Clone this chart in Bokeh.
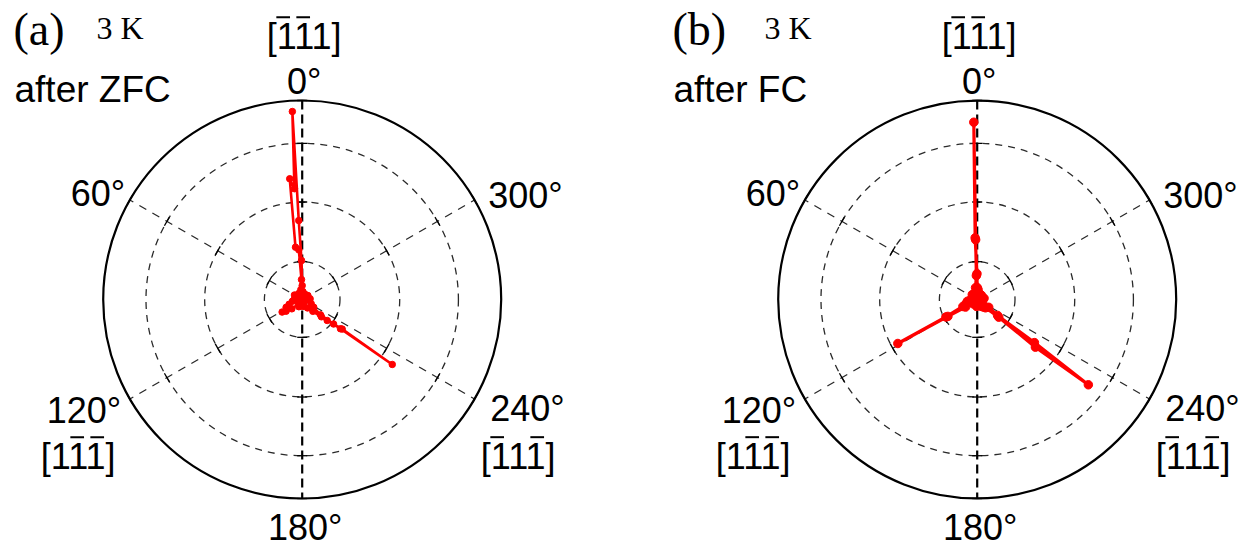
import numpy as np
from bokeh.plotting import figure
from bokeh.models import Range1d
from bokeh.embed import file_html
from bokeh.resources import INLINE
from bokeh.core.properties import value

# ---------------- data (angle in degrees, CCW from top; r normalised to outer ring = 1)
a_theta = [340, 350, 355, 0, 1, 2.5, 3.0, 4.0, 5.9, 7.3, 3.9, 2.0, 8, 15, 30, 45, 60, 75, 90,
           100, 110, 116, 122, 126, 132, 140, 155, 170, 185, 200, 212, 222, 228, 230, 232.6,
           234.2, 233.5, 232, 230, 236, 245, 260, 275, 290, 305, 320, 335]
a_r = [0.03, 0.012, 0.04, 0.07, 0.196, 0.397, 0.946, 0.558, 0.61, 0.265, 0.25, 0.10, 0.05, 0.02,
       0.035, 0.01, 0.045, 0.02, 0.04, 0.05, 0.07, 0.09, 0.119, 0.10, 0.07, 0.03, 0.04, 0.01,
       0.035, 0.02, 0.05, 0.08, 0.13, 0.164, 0.242, 0.558, 0.25, 0.20, 0.12, 0.07, 0.05, 0.02,
       0.04, 0.01, 0.035, 0.02, 0.03]

b_theta = [330, 345, 355, 0, 0.5, 1.9, 1.1, 1.5, 2, 8, 25, 45, 65, 85, 100, 110, 116, 119.2,
           119, 120, 123, 135, 155, 175, 195, 210, 220, 225, 230.7, 230.7, 232.5, 233, 232, 236,
           245, 260, 280, 300, 315]
b_r = [0.03, 0.01, 0.05, 0.06, 0.13, 0.31, 0.891, 0.30, 0.12, 0.06, 0.02, 0.035, 0.01, 0.03,
       0.05, 0.06, 0.08, 0.18, 0.456, 0.17, 0.07, 0.03, 0.01, 0.035, 0.02, 0.04, 0.05, 0.059,
       0.14, 0.378, 0.704, 0.36, 0.13, 0.07, 0.03, 0.01, 0.035, 0.015, 0.03]

grid_r = [0.19, 0.49, 0.785]
spoke_angles = [0, 60, 120, 180, 240, 300]
angle_labels = ["0°", "60°", "120°", "180°", "240°", "300°"]
# Miller-index labels: digits, plus which digits carry an over-bar (negative index)
dir_labels = ["[111]", "[111]", "[111]"]
dir_bars = [[0, 1], [1, 2], [0, 2]]
panel_tags = ["(a)", "(b)"]
temp_label = "3 K"
cond_labels = ["after ZFC", "after FC"]

# ---------------- layout
W, H = 1249, 550
R = 199.0
centers = [(301.7, 251.0), (976.7, 251.0)]

p = figure(width=W, height=H, x_range=Range1d(0, W), y_range=Range1d(0, H),
           output_backend="svg", toolbar_location=None, min_border=0,
           x_axis_type=None, y_axis_type=None)
p.grid.visible = False
p.outline_line_color = None
p.background_fill_color = "white"


def pol(cx, cy, th_deg, r):
    t = np.deg2rad(np.asarray(th_deg, dtype=float))
    r = np.asarray(r, dtype=float) * R
    return cx - r * np.sin(t), cy + r * np.cos(t)


SANS = value("Liberation Sans")
SERIF = value("Liberation Serif")


def put(x, y, s, font, fs, align="left"):
    # y is the desired alphabetic baseline (data units); compensate renderer offset
    p.text(x=[x], y=[y + 0.34 * fs], text=[s], text_font=font,
           text_font_size=f"{fs}px", text_align=align, text_baseline="alphabetic",
           text_color="black")


LFS = 36  # label font size
bx0, by0, bx1, by1 = [], [], [], []

for k, (cx, cy) in enumerate(centers):
    # dashed rings
    for gr in grid_r:
        p.circle(x=[cx], y=[cy], radius=gr * R, fill_color=None, line_color="#2a2a2a",
                 line_width=1.3, line_dash="7 6")
    # spokes
    for ang in [60, 120, 240, 300]:
        xs, ys = pol(cx, cy, [ang], [1.0])
        p.segment(x0=[cx], y0=[cy], x1=list(xs), y1=list(ys), line_color="#2a2a2a",
                  line_width=1.3, line_dash="8 7")
    xs, ys = pol(cx, cy, [0, 180], [1.0, 1.0])
    p.segment(x0=[xs[0]], y0=[ys[0]], x1=[xs[1]], y1=[ys[1]], line_color="black",
              line_width=2.2, line_dash="9 5")
    # small ticks at crossings
    tx0, ty0, tx1, ty1 = [], [], [], []
    for ang in spoke_angles:
        t = np.deg2rad(ang)
        vx, vy = np.cos(t), np.sin(t)
        for gr in grid_r + [1.0]:
            px_, py_ = pol(cx, cy, [ang], [gr])
            tx0.append(px_[0] - 5 * vx); ty0.append(py_[0] - 5 * vy)
            tx1.append(px_[0] + 5 * vx); ty1.append(py_[0] + 5 * vy)
    p.segment(x0=tx0, y0=ty0, x1=tx1, y1=ty1, line_color="black", line_width=1.3)
    # outer ring
    p.circle(x=[cx], y=[cy], radius=R, fill_color=None, line_color="black", line_width=2.2)

    # data
    th, rr = (a_theta, a_r) if k == 0 else (b_theta, b_r)
    dx, dy = pol(cx, cy, th, rr)
    lw, ms = (2.6, 6.5) if k == 0 else (3.2, 8.5)
    p.line(x=list(dx), y=list(dy), line_color="red", line_width=lw)
    p.scatter(x=list(dx), y=list(dy), size=ms, fill_color="red", line_color="red")

    # angle labels
    offs = [(2, 206, "center"), (-177, 94, "right"), (-181, -123, "right"),
            (3, -240, "center"), (188, -121, "left"), (186, 92, "left")]
    for lab, (ox, oy, al) in zip(angle_labels, offs):
        put(cx + ox, cy + oy, lab, SANS, LFS, al)
    doffs = [(2, 251), (-224, -169), (216, -169)]
    for lab, bars, (ox, oy) in zip(dir_labels, dir_bars, doffs):
        X, Y = cx + ox, cy + oy
        put(X, Y, lab, SANS, LFS, "center")
        start = X - 2.224 * LFS / 2 + 0.278 * LFS
        for d in bars:
            c = start + 0.556 * LFS * d + 0.25 * LFS
            bx0.append(c - 0.19 * LFS); bx1.append(c + 0.19 * LFS)
            by0.append(Y + 0.87 * LFS); by1.append(Y + 0.87 * LFS)

    # panel titles
    lx = 13 if k == 0 else 672
    put(lx, 550 - 45, panel_tags[k], SERIF, 46)
    put(119.5 if k == 0 else 787.5, 550 - 38, temp_label, SERIF, 32, "center")
    put(lx + 1, 550 - 102, cond_labels[k], SANS, 37)

# over-bars of the negative Miller indices
p.segment(x0=bx0, y0=by0, x1=bx1, y1=by1, line_color="black", line_width=2)

open("out.html", "w").write(file_html(p, INLINE))
